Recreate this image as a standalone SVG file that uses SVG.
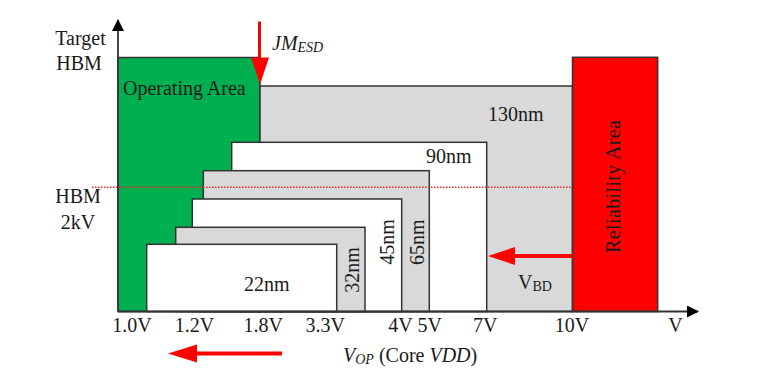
<svg xmlns="http://www.w3.org/2000/svg" width="758" height="374" viewBox="0 0 758 374">
<style>
text{font-family:"Liberation Serif","Times New Roman",serif;font-size:20px;fill:#1a1a1a}
.box{stroke:#333;stroke-width:1.5}
.w{fill:#fff}
.g{fill:#d9d9d9}
.it{font-style:italic}
.sub{font-size:14px}
.red{fill:#ff0000}
</style>
<defs>
<marker id="blk" markerWidth="12" markerHeight="18" refX="11" refY="6" orient="auto" markerUnits="userSpaceOnUse">
<path d="M0,0 L12,6 L0,12 z" fill="#000"/>
</marker>
</defs>
<rect width="758" height="374" fill="#fff"/>
<g id="operating-area">
<rect class="box" x="118" y="57.5" width="142" height="254" fill="#00b050"/>
<text x="123" y="95">Operating Area</text>
</g>
<g id="n130">
<rect class="box g" x="260" y="86" width="312.5" height="225.5"/>
<text x="488" y="121">130nm</text>
</g>
<g id="n90">
<rect class="box w" x="231.7" y="142.3" width="255" height="169.2"/>
<text x="426" y="163">90nm</text>
</g>
<g id="n65">
<rect class="box g" x="203.3" y="170.7" width="226" height="140.8"/>
<text transform="translate(423.5,242.3) rotate(-90)" text-anchor="middle">65nm</text>
</g>
<g id="n45">
<rect class="box w" x="192.3" y="199" width="209.4" height="112.5"/>
<text transform="translate(394,242) rotate(-90)" text-anchor="middle">45nm</text>
</g>
<g id="n32">
<rect class="box g" x="175.7" y="227.3" width="189.3" height="84.2"/>
<text transform="translate(358.5,270) rotate(-90)" text-anchor="middle">32nm</text>
</g>
<g id="n22">
<rect class="box w" x="146.7" y="244.3" width="190" height="67.2"/>
<text x="244" y="291">22nm</text>
</g>
<g id="reliability-area">
<rect class="box red" x="572.5" y="57.3" width="85.2" height="254.2"/>
<text transform="translate(620,186.5) rotate(-90)" text-anchor="middle" textLength="133">Reliability Area</text>
</g>
<g id="hbm-line">
<line x1="92" y1="187.3" x2="572" y2="187.3" stroke="#f02828" stroke-width="1.4" stroke-dasharray="1.5,1.5"/>
</g>
<g id="connectors">
<line x1="118" y1="311.5" x2="118" y2="20" stroke="#333" stroke-width="1.8" marker-end="url(#blk)"/>
<line x1="118" y1="311.5" x2="698" y2="311.5" stroke="#333" stroke-width="1.8" marker-end="url(#blk)"/>
<line x1="259.5" y1="21.5" x2="259.5" y2="60" stroke="#ff0000" stroke-width="3"/>
<polygon points="251,57.5 269,57.5 260,84.5" class="red"/>
<line x1="572" y1="256" x2="512" y2="256" stroke="#ff0000" stroke-width="4"/>
<polygon points="515,247 515,265 488,256" class="red"/>
<line x1="282" y1="353.5" x2="194" y2="353.5" stroke="#ff0000" stroke-width="4"/>
<polygon points="197,344.5 197,362.5 168,353.5" class="red"/>
</g>
<g id="labels">
<text x="80.5" y="45" text-anchor="middle">Target</text>
<text x="79" y="70" text-anchor="middle">HBM</text>
<text x="78" y="203" text-anchor="middle">HBM</text>
<text x="78" y="229" text-anchor="middle">2kV</text>
<text x="272" y="50"><tspan class="it">JM</tspan><tspan class="it sub" dy="2">ESD</tspan></text>
<text x="518" y="289">V<tspan class="sub" dy="2">BD</tspan></text>
<g text-anchor="middle">
<text x="132" y="332">1.0V</text>
<text x="194.5" y="332">1.2V</text>
<text x="263.3" y="332">1.8V</text>
<text x="325.3" y="332">3.3V</text>
<text x="400.5" y="332">4V</text>
<text x="429.7" y="332">5V</text>
<text x="485.3" y="332">7V</text>
<text x="572" y="332">10V</text>
<text x="675.5" y="332">V</text>
</g>
<text x="343" y="362"><tspan class="it">V</tspan><tspan class="it sub" dy="2">OP</tspan><tspan dy="-2"> (Core </tspan><tspan class="it">VDD</tspan>)</text>
</g>
</svg>
